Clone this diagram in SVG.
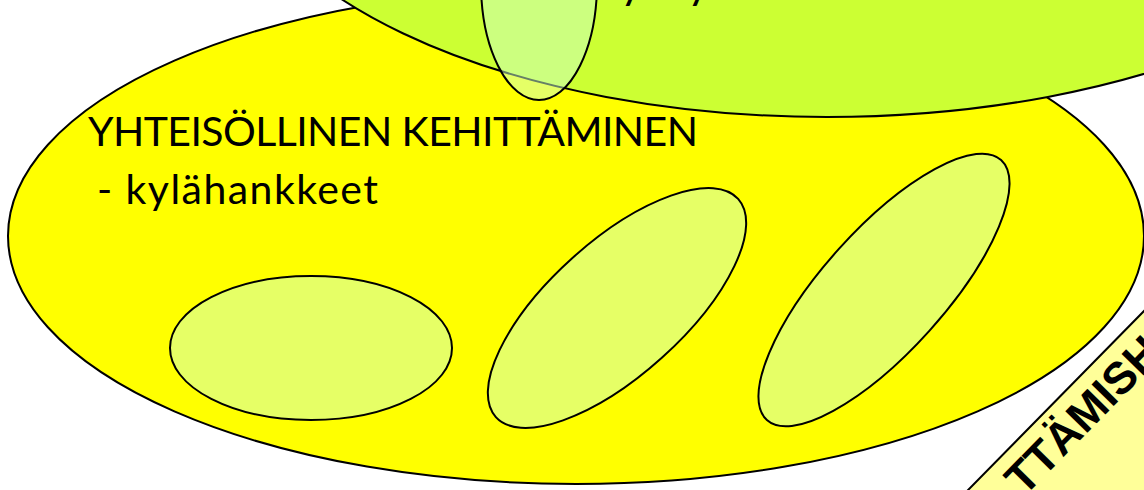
<svg xmlns="http://www.w3.org/2000/svg" width="1144" height="490" viewBox="0 0 1144 490">
<style>
.o{stroke:#000;stroke-width:2}
.t{font-family:Lato,"Open Sans","Liberation Sans",sans-serif;fill:#000}
.inner{fill:#E6FF66;stroke:#000;stroke-width:2}
</style>
<rect width="1144" height="490" fill="#FFFFFF"/>
<g id="yhteisollinen-kehittaminen">
<ellipse class="o" cx="576" cy="236" rx="568" ry="248" fill="#FFFF00"/>
<text class="t" x="88" y="146" font-size="41" textLength="610">YHTEISÖLLINEN KEHITTÄMINEN</text>
<text class="t" x="97" y="204" font-size="41" textLength="281">- kylähankkeet</text>
</g>
<g id="inner-1"><ellipse class="inner" cx="311" cy="348" rx="141" ry="72"/></g>
<g id="inner-2"><ellipse class="inner" cx="617" cy="308" rx="163" ry="67" transform="rotate(-42 617 308)"/></g>
<g id="inner-3"><ellipse class="inner" cx="884" cy="290" rx="175" ry="61" transform="rotate(-48 884 290)"/></g>
<g id="top-green">
<ellipse class="o" cx="827" cy="-169" rx="600" ry="286" fill="#CCFF33"/>
<text class="t" x="620 687" y="-2" font-size="44">yy</text>
</g>
<g id="small-oval">
<ellipse class="o" cx="539" cy="-17" rx="58" ry="117" fill="#CCFFCC" fill-opacity="0.5"/>
</g>
<g id="rotated-label" transform="translate(1144 311) rotate(-45.5)">
<rect class="o" x="-400" y="0" width="600" height="250" fill="#FFFF99"/>
<text x="-217" y="45" font-family="'Liberation Sans',Arial,sans-serif" font-weight="bold" font-size="45" fill="#000">TTÄMISH</text>
</g>
<g id="connectors"></g>
</svg>
